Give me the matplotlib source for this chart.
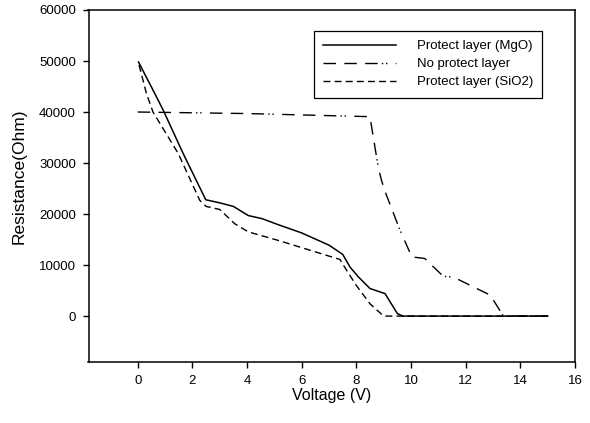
import matplotlib
matplotlib.use("Agg")
import matplotlib.pyplot as plt

plt.rcParams["font.family"] = ["Liberation Sans", "DejaVu Sans"]

# Protect layer (MgO)
v_mgo = [0.03, 0.56, 0.93, 1.66, 2.49, 3.0, 3.5, 4.05, 4.55, 5.15, 6.0, 7.0,
         7.5, 7.77, 8.07, 8.5, 9.05, 9.5, 9.7, 15.0]
r_mgo = [49800, 44300, 40400, 31900, 22800, 22200, 21500, 19700, 19100,
         17900, 16300, 13900, 12100, 9600, 7700, 5400, 4400, 500, 0, 0]

# No protect layer
v_none = [0, 4.0, 8.4, 8.5, 8.8, 8.92, 9.1, 9.6, 10.03, 10.5, 11.18, 11.55,
          12.9, 13.38, 15.0]
r_none = [40000, 39700, 39100, 39000, 29200, 26600, 23700, 16800, 11600,
          11300, 7800, 7650, 4100, 0, 0]

# Protect layer (SiO2)
v_sio2 = [0.05, 0.32, 0.56, 1.48, 2.27, 2.5, 3.0, 3.55, 4.05, 5.1, 7.4, 7.64,
          8.0, 8.5, 9.0, 15.0]
r_sio2 = [49200, 43600, 40000, 31900, 22700, 21500, 20900, 18100, 16500,
          14900, 11100, 9000, 6000, 2400, 0, 0]

fig = plt.figure(figsize=(5.9, 4.23), dpi=100)
ax = fig.add_axes([0.150, 0.1442, 0.8246, 0.8322])

ax.plot(v_mgo, r_mgo, color="black", lw=1.1, label="Protect layer (MgO)")
ax.plot(v_none, r_none, color="black", lw=1.0,
        dashes=(9, 6, 9, 6, 9, 3, 1, 2, 1, 6), label="No protect layer")
ax.plot(v_sio2, r_sio2, color="black", lw=1.0, dashes=(5, 3),
        label="Protect layer (SiO2)")

ax.set_xlim(-1.8, 16)
ax.set_ylim(-9000, 60000)
ax.set_xticks(range(0, 17, 2))
ax.set_yticks(range(0, 60001, 10000))
ax.tick_params(direction="out", length=4, width=1, labelsize=9.5)
ax.tick_params(axis="x", pad=5)
ax.tick_params(axis="y", pad=5)
for s in ax.spines.values():
    s.set_linewidth(1.1)

ax.set_xlabel("Voltage (V)", fontsize=11.5)
ax.xaxis.set_label_coords(0.5, -0.075)
ax.set_ylabel("Resistance(Ohm)", fontsize=12.5)
ax.yaxis.set_label_coords(-0.128, 0.528)

leg = ax.legend(loc="upper right", bbox_to_anchor=(0.946, 0.96), fontsize=9.5,
                handlelength=5.5, handletextpad=1.6, labelspacing=0.45,
                fancybox=False, framealpha=1, edgecolor="black",
                borderpad=0.7)
leg.get_frame().set_linewidth(0.9)

fig.savefig("out.png", dpi=100)
